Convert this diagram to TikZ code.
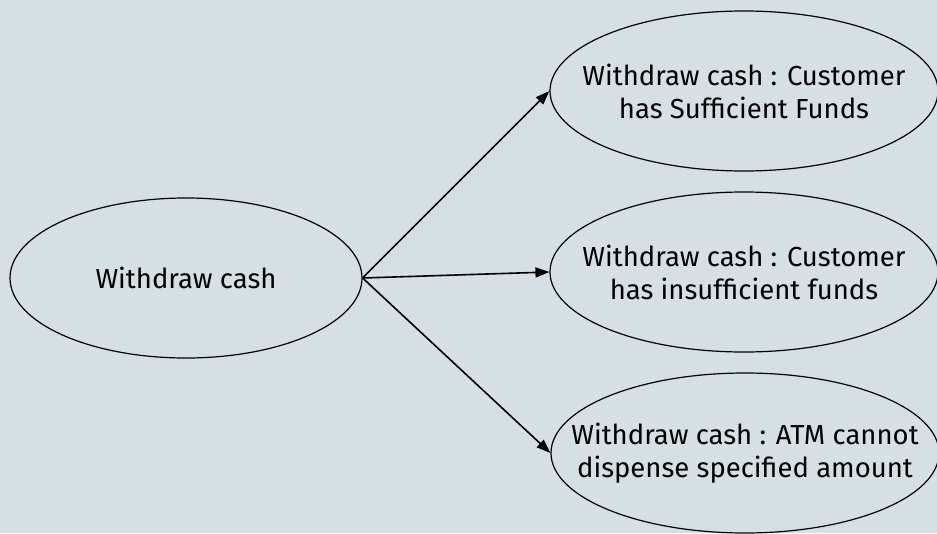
\documentclass[tikz,border=0pt]{standalone}
\usepackage{fontspec}
\setmainfont{Fira Sans}
\usetikzlibrary{shapes.geometric,arrows.meta}
\definecolor{panel}{RGB}{214,224,228}
\begin{document}
\begin{tikzpicture}[x=1pt,y=-1pt,
  usecase/.style={draw, ellipse, line width=1.2pt, inner sep=0pt, minimum width=388pt, minimum height=160pt},
  caselabel/.style={align=center, font=\fontsize{27.5}{33}\selectfont},
  flow/.style={-{Triangle[length=14pt,width=10pt]}, line width=1.6pt}]
\fill[panel] (0,0) rectangle (937,533);
\useasboundingbox (0,0) rectangle (937,533);
\node[usecase, minimum width=352pt, label={[caselabel]center:Withdraw cash}] (cash) at (186,278) {};
\node[usecase, label={[caselabel]center:Withdraw cash : Customer\\has Sufficient Funds}] (funds) at (744,91) {};
\node[usecase, label={[caselabel]center:Withdraw cash : Customer\\has insufficient funds}] (nofunds) at (744,272) {};
\node[usecase, label={[caselabel]center:Withdraw cash : ATM cannot\\dispense specified amount}] (noamount) at (745,453) {};
\draw[flow] (cash.east) -- (funds.west);
\draw[flow] (cash.east) -- (nofunds.west);
\draw[flow] (cash.east) -- (noamount.west);
\end{tikzpicture}
\end{document}
